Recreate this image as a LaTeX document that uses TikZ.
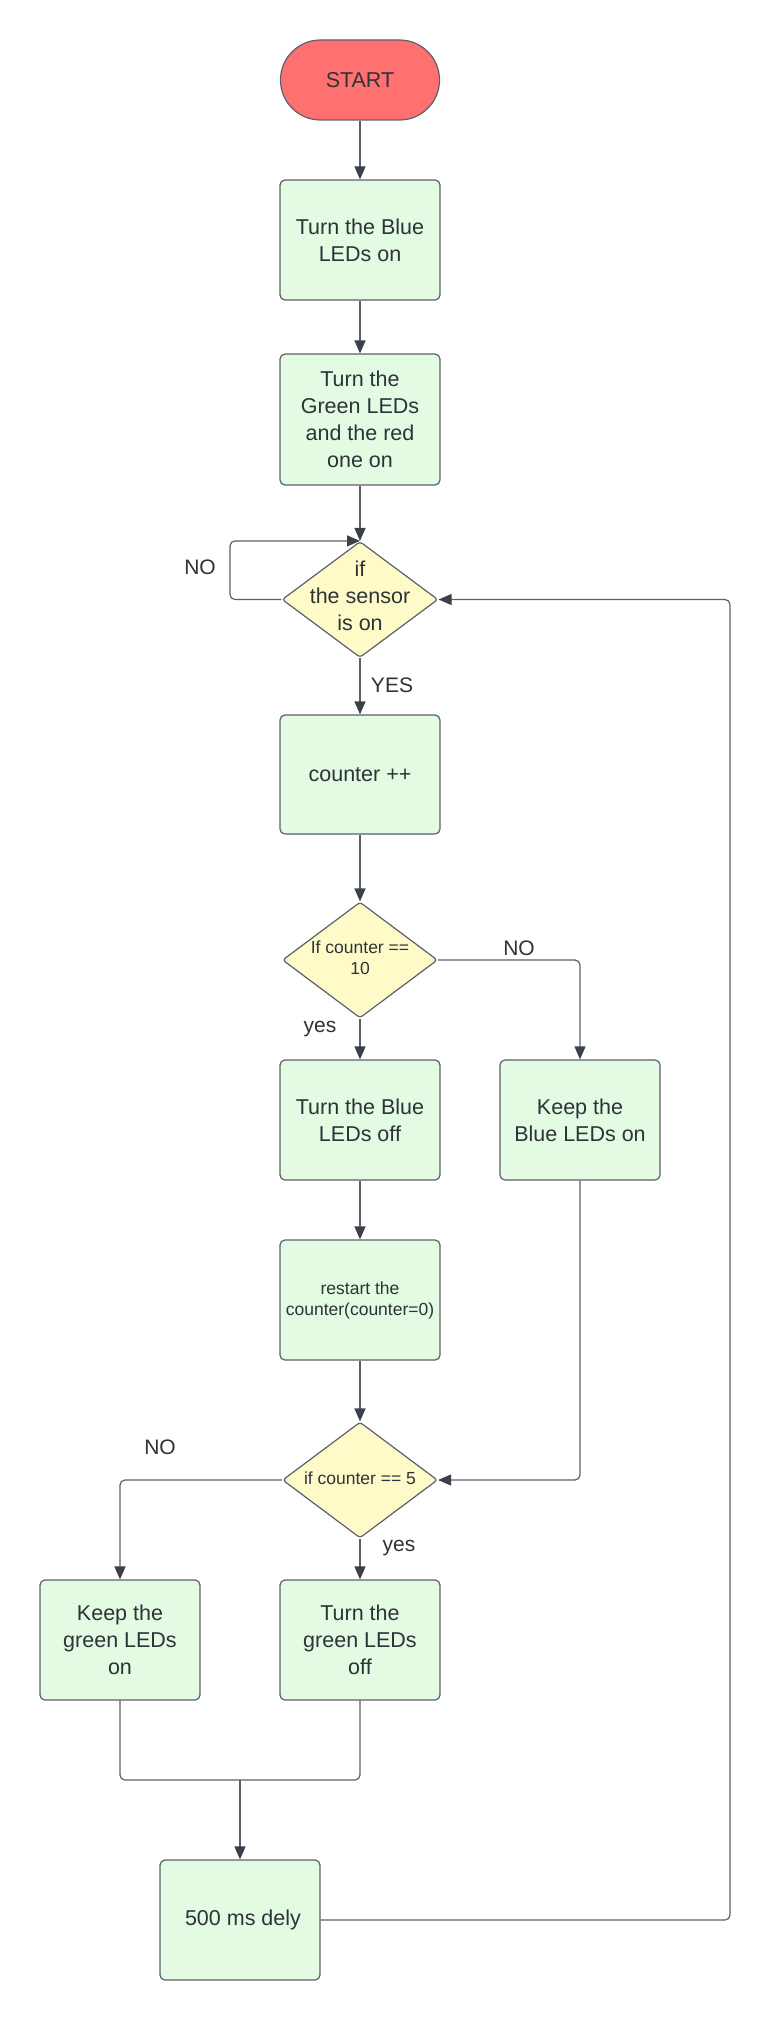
\documentclass[tikz,border=0pt]{standalone}
\usepackage{fontspec}
\setmainfont{Liberation Sans}
\usetikzlibrary{arrows.meta,shapes.geometric}
\definecolor{startfill}{HTML}{FF7171}
\definecolor{boxfill}{HTML}{E3FAE3}
\definecolor{diafill}{HTML}{FFFBC9}
\definecolor{edge}{HTML}{5C6168}
\definecolor{tip}{HTML}{3A414A}
\definecolor{txt}{HTML}{2E3338}
\tikzset{
  box/.style={draw=edge, line width=1.2pt, fill=boxfill, rounded corners=5pt,
    minimum width=160pt, minimum height=120pt, inner sep=0pt, align=center,
    text=txt, font=\fontsize{21.5pt}{27pt}\selectfont},
  startbox/.style={box, fill=startfill, rounded corners=40pt, minimum height=80pt},
  dia/.style={draw=edge, line width=1.2pt, fill=diafill, diamond, rounded corners=3pt,
    minimum width=156pt, minimum height=116pt, inner sep=0pt},
  bigtxt/.style={align=center, text=txt, font=\fontsize{21.5pt}{27pt}\selectfont, inner sep=0pt},
  smalltxt/.style={align=center, text=txt, font=\fontsize{17.5pt}{21pt}\selectfont, inner sep=0pt},
  lbl/.style={text=txt, font=\fontsize{21pt}{25pt}\selectfont, inner sep=0pt},
  arr/.style={draw=edge, line width=1.2pt, rounded corners=5pt,
    -{Triangle[length=13pt,width=11pt,color=tip]}},
  conn/.style={draw=edge, line width=1.2pt, rounded corners=5pt}
}
\begin{document}
\begin{tikzpicture}[x=1pt,y=-1pt]
\fill[white] (0,0) rectangle (770,2020);
\useasboundingbox (0,0) rectangle (770,2020);

\node[startbox, minimum width=159pt] (start) at (360,80) {START};
\node[box] (b1) at (360,240) {Turn the Blue\\LEDs on};
\node[box, minimum height=131pt] (b2) at (360,419.5) {Turn the\\Green LEDs\\and the red\\one on};
\node[dia] (d1) at (360,599.5) {};
\node[bigtxt] (d1t) at (360,596) {if\\the sensor\\is on};
\node[box, minimum height=119pt] (cnt) at (360,774.5) {counter ++};
\node[dia, minimum width=155pt] (d2) at (360,960) {};
\node[smalltxt] (d2t) at (360,958) {If counter ==\\10};
\node[box] (b3) at (360,1120) {Turn the Blue\\LEDs off};
\node[box] (kb) at (580,1120) {Keep the\\Blue LEDs on};
\node[box, font=\fontsize{17.5pt}{21pt}\selectfont] (rs) at (360,1300) {restart the\\counter(counter=0)};
\node[dia, minimum width=155pt] (d3) at (360,1480) {};
\node[smalltxt] (d3t) at (360,1478) {if counter == 5};
\node[box] (kg) at (120,1640) {Keep the\\green LEDs\\on};
\node[box] (tg) at (360,1640) {Turn the\\green LEDs\\off};
\node[box] (dl) at (240,1920) {\ 500 ms dely};

\coordinate (m) at (240,1780);
\coordinate (rx) at (730,1200);
\coordinate (lx) at (230,570);

% connectors
\draw[arr] (start) -- (b1);
\draw[arr] (b1) -- (b2);
\draw[arr] (b2) -- (d1.north);
\draw[arr] (d1.west) -| (lx) |- (d1.north);
\draw[arr] (d1.south) -- (cnt);
\draw[arr] (cnt) -- (d2.north);
\draw[arr] (d2.east) -| (kb.north);
\draw[arr] (d2.south) -- (b3);
\draw[arr] (b3) -- (rs);
\draw[arr] (rs) -- (d3.north);
\draw[arr] (kb.south) |- (d3.east);
\draw[arr] (d3.west) -| (kg.north);
\draw[arr] (d3.south) -- (tg);
\draw[conn] (kg.south) |- (m);
\draw[conn] (tg.south) |- (m);
\draw[arr] (m) -- (dl.north);
\draw[arr] (dl.east) -| (rx) |- (d1.east);

% labels
\node[lbl] (no1) at (200,567) {NO};
\node[lbl] (yes1) at (392,685) {YES};
\node[lbl] (no2) at (519,948) {NO};
\node[lbl] (yes2) at (320,1029) {yes};
\node[lbl] (no3) at (160,1447) {NO};
\node[lbl] (yes3) at (399,1548) {yes};
\end{tikzpicture}
\end{document}
